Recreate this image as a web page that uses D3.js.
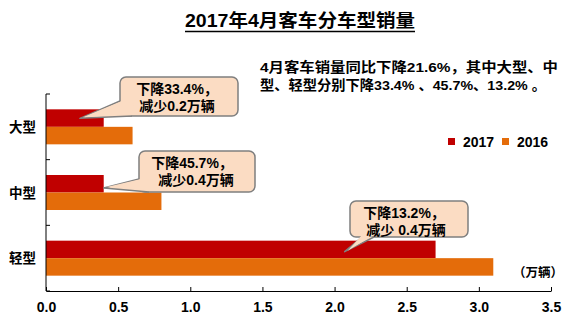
<!DOCTYPE html>
<html><head><meta charset="utf-8">
<script src="https://cdn.jsdelivr.net/npm/d3@7"></script>
<style>
html,body{margin:0;padding:0;background:#fff;}
svg{display:block;}
text{font-family:"Liberation Sans","Noto Sans CJK SC",sans-serif;font-weight:bold;fill:#000;}
</style></head>
<body>
<script>
// ---- data ----
const categories = ["大型", "中型", "轻型"];
const seriesNames = ["2017", "2016"];
const values2017 = [0.4, 0.4, 2.7];
const values2016 = [0.6, 0.8, 3.1];
const xTickValues = [0, 0.5, 1.0, 1.5, 2.0, 2.5, 3.0, 3.5];
const title = "2017年4月客车分车型销量";
const noteLines = ["4月客车销量同比下降21.6%，其中大型、中", "型、轻型分别下降33.4% 、45.7%、13.2% 。"];
const unitLabel = "（万辆）";
const calloutTexts = [
  ["下降33.4%，", "减少0.2万辆"],
  ["下降45.7%，", " 减少0.4万辆"],
  ["下降13.2%，", "减少 0.4万辆"]
];
const calloutTipValues = [0.235, 0.4, 2.07];

// ---- layout ----
const W = 573, H = 329;
const colors = {"2017": "#C00000", "2016": "#E46C0A"};
const svg = d3.select("body").append("svg").attr("width", W).attr("height", H);

const x = d3.scaleLinear().domain([0, 3.5]).range([46, 551]);
const y = d3.scaleBand().domain(categories).range([94, 291]).paddingInner(0.467).paddingOuter(0.2335);
const ySub = d3.scaleBand().domain(seriesNames).range([0, y.bandwidth()]);

// title
svg.append("text").attr("x", 300).attr("y", 27).attr("text-anchor", "middle")
  .attr("textLength", 230).attr("lengthAdjust", "spacingAndGlyphs")
  .style("font-size", "18px").text(title);
svg.append("line").attr("x1", 185).attr("x2", 415).attr("y1", 31.5).attr("y2", 31.5)
  .attr("stroke", "#000").attr("stroke-width", 1.5);

// note
const noteW = [298, 286];
noteLines.forEach((s, i) => {
  svg.append("text").attr("x", 260).attr("y", 72 + i * 18)
    .attr("textLength", noteW[i]).attr("lengthAdjust", "spacingAndGlyphs")
    .style("font-size", "13.5px").text(s);
});

// bars
const rows = categories.map((c, i) => ({cat: c, vals: [values2017[i], values2016[i]]}));
const g = svg.append("g");
rows.forEach(r => {
  seriesNames.forEach((s, j) => {
    g.append("rect")
      .attr("x", x(0)).attr("y", y(r.cat) + ySub(s))
      .attr("width", x(r.vals[j]) - x(0)).attr("height", ySub.bandwidth())
      .attr("fill", colors[s]);
  });
});

// x axis
const xAxis = d3.axisBottom(x).tickValues(xTickValues).tickFormat(d3.format(".1f"))
  .tickSizeInner(-4).tickSizeOuter(0).tickPadding(11);
const xg = svg.append("g").attr("transform", `translate(0,${y.range()[1]})`).call(xAxis);
xg.select(".domain").attr("stroke", "#000");
xg.selectAll(".tick line").attr("stroke", "#000");
xg.selectAll(".tick text").style("font-size", "14px").style("font-family", "\"Liberation Sans\",sans-serif").style("font-weight", "bold");

// y axis (ticks at band boundaries, inward)
const step = y.step();
const bounds = categories.map(c => y(c) - step * y.paddingOuter()).concat([y.range()[1]]);
svg.append("line").attr("x1", x(0)).attr("x2", x(0)).attr("y1", y.range()[0]).attr("y2", y.range()[1]).attr("stroke", "#000");
bounds.forEach(b => svg.append("line").attr("x1", x(0)).attr("x2", x(0) + 4).attr("y1", b).attr("y2", b).attr("stroke", "#000"));
categories.forEach(c => {
  svg.append("text").attr("x", 36).attr("y", y(c) + y.bandwidth() / 2 + 5)
    .attr("text-anchor", "end").style("font-size", "13.5px").text(c);
});

// unit label
svg.append("text").attr("x", 563).attr("y", 277).attr("text-anchor", "end").style("font-size", "12.5px").text(unitLabel);

// legend
seriesNames.forEach((s, i) => {
  const lx = 448 + i * 54;
  svg.append("rect").attr("x", lx).attr("y", 138).attr("width", 7).attr("height", 7).attr("fill", colors[s]);
  svg.append("text").attr("x", lx + 15).attr("y", 147).style("font-size", "14px").text(s);
});

// callouts
const boxes = [
  {x0: 120, y0: 77, w: 118, h: 39, tipDy: 9, b1: [0, 24], b2: [12, 39], tx: [177, 177]},
  {x0: 139, y0: 151, w: 116, h: 41, tipDy: 13, b1: [0, 28], b2: [10, 41], tx: [192, 196]},
  {x0: 350, y0: 201, w: 118, h: 36, tipDy: 11, b1: [12, 36], b2: [24, 36], tx: [404, 406]}
];
boxes.forEach((b, i) => {
  const cat = categories[i];
  const tipX = x(calloutTipValues[i]);
  const tipY = y(cat) + b.tipDy;
  const r = 6;
  const x0 = b.x0, y0 = b.y0, y1 = b.y0 + b.h;
  const cg = svg.append("g");
  cg.append("rect").attr("x", x0).attr("y", y0).attr("width", b.w).attr("height", b.h).attr("rx", r)
    .attr("fill", "#FBDCC3").attr("stroke", "#7F7F7F").attr("stroke-width", 1.5);
  const p1 = [x0 + b.b1[0], y0 + b.b1[1]], p2 = [x0 + b.b2[0], y0 + b.b2[1]];
  cg.append("path").attr("d", `M${p1[0]},${p1[1]}L${tipX},${tipY}L${p2[0]},${p2[1]}`)
    .attr("fill", "#FBDCC3").attr("stroke", "#7F7F7F").attr("stroke-width", 1.5).attr("stroke-linejoin", "round");
  const inset = 2;
  const q1 = [p1[0] + (p1[0] === x0 ? inset : 0), p1[1] - (p1[1] === y1 ? inset : 0)];
  const q2 = [p2[0] + (p2[0] === x0 ? inset : 0), p2[1] - (p2[1] === y1 ? inset : 0)];
  cg.append("path").attr("d", `M${q1[0]},${q1[1]}L${tipX + 3},${tipY - 1}L${q2[0]},${q2[1]}L${x0 + 14},${y1 - 12}Z`)
    .attr("fill", "#FBDCC3");
  calloutTexts[i].forEach((s, k) => {
    cg.append("text").attr("x", b.tx[k]).attr("y", y0 + 17 + k * 17).attr("text-anchor", "middle")
      .style("font-size", "14px").text(s);
  });
});
</script>
</body></html>
